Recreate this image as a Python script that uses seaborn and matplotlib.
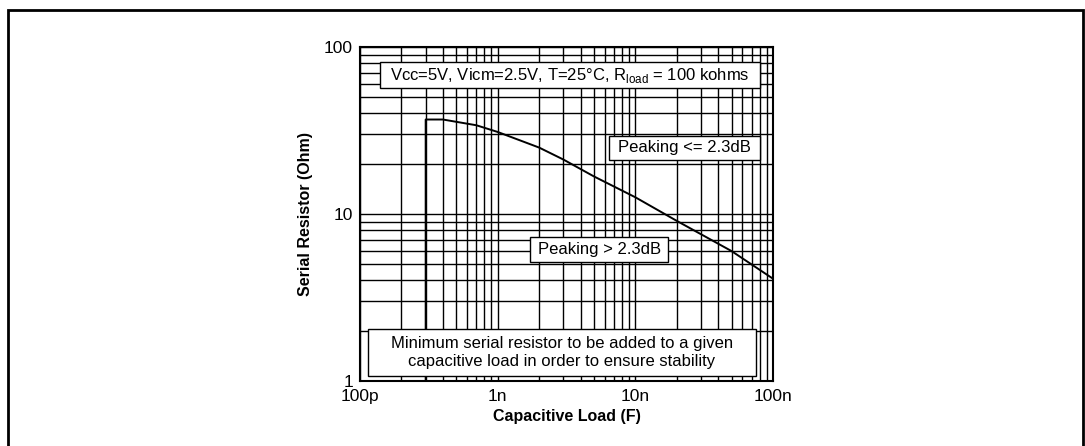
import pandas as pd
import matplotlib
matplotlib.use("Agg")
import matplotlib.pyplot as plt
import seaborn as sns
from matplotlib.patches import Rectangle
from matplotlib.ticker import FixedLocator, LogLocator, NullFormatter

# DATA
cap_load = [3e-10, 3e-10, 4e-10, 7e-10, 1e-9, 2e-9, 3e-9, 5e-9, 1e-8, 2e-8, 5e-8, 1e-7]
serial_r = [1.0, 36.8, 36.8, 34.0, 31.0, 25.0, 21.2, 16.8, 12.6, 9.1, 6.0, 4.1]

x_ticks = [1e-10, 1e-9, 1e-8, 1e-7]
x_labels = ["100p", "1n", "10n", "100n"]
y_ticks = [1, 10, 100]
y_labels = ["1", "10", "100"]

cond_text = "Vcc=5V, Vicm=2.5V, T=25°C, R$_\\mathregular{load}$ = 100 kohms"
upper_text = "Peaking <= 2.3dB"
lower_text = "Peaking > 2.3dB"
note_text = "Minimum serial resistor to be added to a given\ncapacitive load in order to ensure stability"

df = pd.DataFrame({"C": cap_load, "R": serial_r})

# STYLE
sns.set_style("white")
plt.rcParams["font.family"] = ["Liberation Sans", "DejaVu Sans"]
plt.rcParams["mathtext.fontset"] = "custom"
plt.rcParams["mathtext.rm"] = "Liberation Sans"
plt.rcParams["text.color"] = "black"
plt.rcParams["axes.labelcolor"] = "black"
plt.rcParams["xtick.color"] = "black"
plt.rcParams["ytick.color"] = "black"

fig = plt.figure(figsize=(10.85, 4.46), dpi=100)
ax = fig.add_axes([0.3318, 0.1457, 0.3806, 0.7489])

# outer frame
fig.patches.append(Rectangle((8 / 1085, -0.05), 1075 / 1085, 1 - 10 / 446 + 0.05,
                             transform=fig.transFigure, fill=False,
                             edgecolor="black", linewidth=2))

sns.lineplot(data=df, x="C", y="R", ax=ax, color="black", linewidth=1.4,
             sort=False, estimator=None, zorder=3)

ax.set_xscale("log")
ax.set_yscale("log")
ax.set_xlim(1e-10, 1e-7)
ax.set_ylim(1, 100)

ax.xaxis.set_major_locator(FixedLocator(x_ticks))
ax.set_xticklabels(x_labels)
ax.yaxis.set_major_locator(FixedLocator(y_ticks))
ax.set_yticklabels(y_labels)
ax.xaxis.set_minor_locator(LogLocator(base=10, subs=range(2, 10)))
ax.yaxis.set_minor_locator(LogLocator(base=10, subs=range(2, 10)))
ax.xaxis.set_minor_formatter(NullFormatter())
ax.yaxis.set_minor_formatter(NullFormatter())

ax.grid(True, which="both", color="black", linewidth=1.0)
ax.tick_params(which="both", direction="in", length=3, labelsize=12.5)
ax.tick_params(axis="x", pad=6)
ax.tick_params(axis="y", pad=5)
for s in ax.spines.values():
    s.set_color("black")
    s.set_linewidth(1.5)

ax.set_xlabel("Capacitive Load (F)", fontsize=11.5, fontweight="bold", labelpad=3)
ax.set_ylabel("Serial Resistor (Ohm)", fontsize=11.5, fontweight="bold", labelpad=8)

# TEXT BOXES
def box(x0, x1, y0, y1, text, size=12):
    ax.add_patch(Rectangle((x0, y0), x1 - x0, y1 - y0, transform=ax.transAxes,
                           facecolor="white", edgecolor="black", linewidth=1.0,
                           zorder=5))
    ax.text((x0 + x1) / 2, (y0 + y1) / 2, text, transform=ax.transAxes,
            ha="center", va="center", fontsize=size, zorder=6,
            linespacing=1.2)

box(0.048, 0.969, 0.877, 0.955, cond_text)
box(0.603, 0.969, 0.662, 0.734, upper_text)
box(0.412, 0.746, 0.356, 0.431, lower_text)
box(0.019, 0.959, 0.015, 0.156, note_text)

fig.savefig("out.png", dpi=100)
